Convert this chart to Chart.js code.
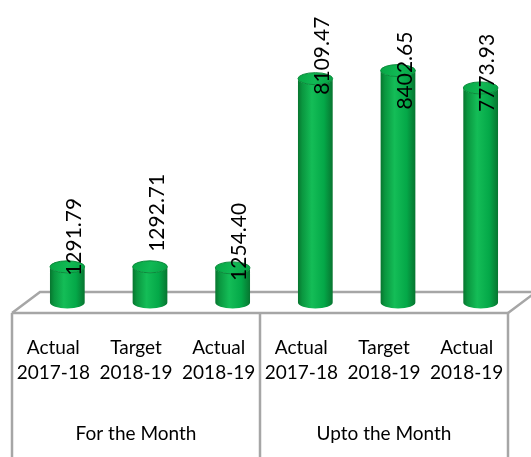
<!DOCTYPE html>
<html>
<head>
<meta charset="utf-8">
<script src="https://cdn.jsdelivr.net/npm/chart.js@4/dist/chart.umd.min.js"></script>
<style>
    body { margin: 0; background: #fff; }
    #chart { display: block; }
</style>
</head>
<body>
<canvas id="chart" width="531" height="457"></canvas>
<script>
// data
const categories = [
    ['Actual', '2017-18'], ['Target', '2018-19'], ['Actual', '2018-19'],
    ['Actual', '2017-18'], ['Target', '2018-19'], ['Actual', '2018-19']
];
const groups = ['For the Month', 'Upto the Month'];
const values = [1291.79, 1292.71, 1254.40, 8109.47, 8402.65, 7773.93];

// 3D look: floor depth and where the labels sit over each bar
const DEPTH_X = 28, DEPTH_Y = 21;
const labelLift = [-30, -54, -26, -23, 0, -15];
const lineGray = '#a6a6a6';
const FONT = 'Lato, "Open Sans", sans-serif';

const floorPlugin = {
    id: 'floor',
    beforeDatasetsDraw(chart) {
        const { ctx, chartArea: a } = chart;
        ctx.save();
        ctx.strokeStyle = lineGray;
        ctx.lineWidth = 2.5;
        ctx.beginPath();
        // back edge and side diagonals
        ctx.moveTo(a.left, a.bottom);
        ctx.lineTo(a.left + DEPTH_X, a.bottom - DEPTH_Y);
        ctx.lineTo(a.right + DEPTH_X, a.bottom - DEPTH_Y);
        ctx.moveTo(a.right, a.bottom);
        ctx.lineTo(a.right + DEPTH_X, a.bottom - DEPTH_Y);
        ctx.stroke();
        ctx.restore();
    },
    afterDatasetsDraw(chart) {
        const { ctx, chartArea: a } = chart;
        const meta = chart.getDatasetMeta(0);
        ctx.save();
        meta.data.forEach((bar, i) => {
            const w = bar.width;
            const cx = bar.x + DEPTH_X / 2;
            const top = bar.y - DEPTH_Y / 2;
            const base = bar.base - DEPTH_Y / 2;
            const rx = w / 2, ry = 6;
            const left = cx - rx, right = cx + rx;

            const g = ctx.createLinearGradient(left, 0, right, 0);
            g.addColorStop(0, '#08752f');
            g.addColorStop(0.12, '#0a963f');
            g.addColorStop(0.4, '#14bd57');
            g.addColorStop(0.75, '#04a848');
            g.addColorStop(1, '#077530');

            ctx.beginPath();
            ctx.moveTo(left, top);
            ctx.lineTo(left, base);
            ctx.ellipse(cx, base, rx, ry, 0, Math.PI, 0, true);
            ctx.lineTo(right, top);
            ctx.ellipse(cx, top, rx, ry, 0, 0, Math.PI, false);
            ctx.closePath();
            ctx.fillStyle = g;
            ctx.fill();

            const gt = ctx.createLinearGradient(left, top - ry, right, top + ry);
            gt.addColorStop(0, '#08a444');
            gt.addColorStop(0.5, '#10b954');
            gt.addColorStop(1, '#06a044');
            ctx.beginPath();
            ctx.ellipse(cx, top, rx, ry, 0, 0, Math.PI * 2);
            ctx.fillStyle = gt;
            ctx.fill();
            ctx.strokeStyle = '#0b8a3b';
            ctx.lineWidth = 1;
            ctx.stroke();
        });

        // front edge of the floor and the table lines below it
        ctx.strokeStyle = lineGray;
        ctx.lineWidth = 2.5;
        ctx.beginPath();
        ctx.moveTo(a.left, a.bottom);
        ctx.lineTo(a.right, a.bottom);
        const mid = (a.left + a.right) / 2;
        [a.left, mid, a.right].forEach(x => {
            ctx.moveTo(x, a.bottom);
            ctx.lineTo(x, chart.height);
        });
        ctx.stroke();

        // data labels
        ctx.fillStyle = '#000';
        ctx.font = '21px ' + FONT;
        ctx.textAlign = 'center';
        ctx.textBaseline = 'middle';
        meta.data.forEach((bar, i) => {
            const cx = bar.x + DEPTH_X / 2 + 7;
            const cy = bar.y - DEPTH_Y / 2 + labelLift[i];
            ctx.save();
            ctx.translate(cx, cy);
            ctx.rotate(-Math.PI / 2);
            ctx.fillText(values[i].toFixed(2), 0, 0);
            ctx.restore();
        });

        // group labels under the middle category of each group
        const xs = chart.scales.x;
        ctx.font = '19px ' + FONT;
        groups.forEach((name, g) => {
            ctx.fillText(name, xs.getPixelForValue(g * 3 + 1), 434);
        });
        ctx.restore();
    }
};

new Chart(document.getElementById('chart'), {
    type: 'bar',
    data: {
        labels: categories,
        datasets: [{
            data: values,
            backgroundColor: 'rgba(0,0,0,0)',
            categoryPercentage: 1,
            barPercentage: 0.42
        }]
    },
    options: {
        responsive: false,
        animation: false,
        devicePixelRatio: 1,
        layout: { padding: { left: 12, right: 23, top: 37, bottom: 0 } },
        plugins: {
            legend: { display: false },
            tooltip: { enabled: false }
        },
        scales: {
            x: {
                grid: { display: false, drawTicks: false },
                border: { display: false },
                ticks: {
                    color: '#000',
                    font: { family: FONT, size: 19, lineHeight: 1.3 },
                    padding: 23,
                    maxRotation: 0,
                    autoSkip: false
                },
                afterFit(scale) {
                    scale.height = 144;
                    scale.paddingLeft = 0;
                    scale.paddingRight = 0;
                }
            },
            y: {
                display: false,
                min: 0,
                max: 10000
            }
        }
    },
    plugins: [floorPlugin]
});
</script>
</body>
</html>
